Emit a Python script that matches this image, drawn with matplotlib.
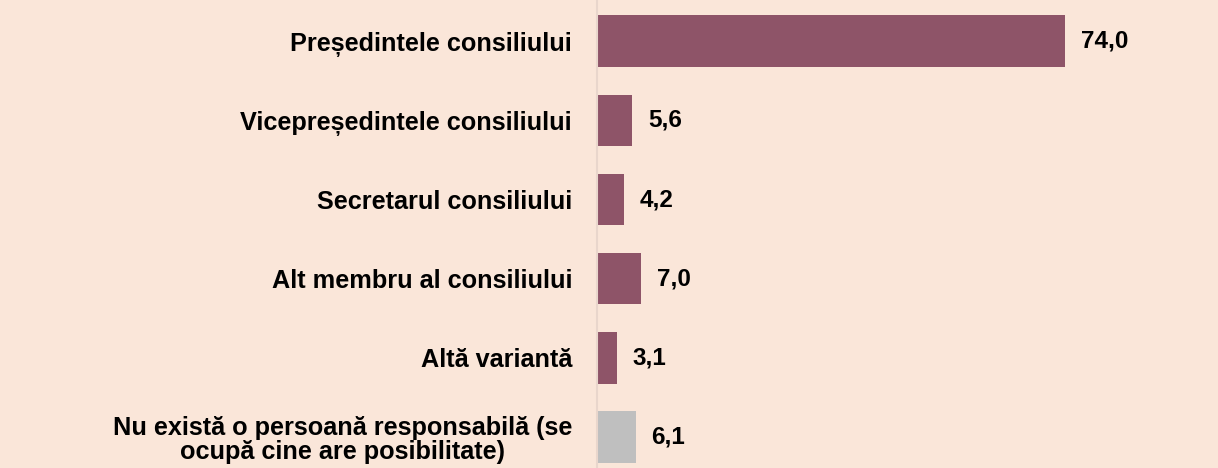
import matplotlib
matplotlib.use("Agg")
import matplotlib.pyplot as plt

categories = [
    "Președintele consiliului",
    "Vicepreședintele consiliului",
    "Secretarul consiliului",
    "Alt membru al consiliului",
    "Altă variantă",
    "Nu există o persoană responsabilă (se\nocupă cine are posibilitate)",
]
values = [74.0, 5.6, 4.2, 7.0, 3.1, 6.1]
value_labels = ["74,0", "5,6", "4,2", "7,0", "3,1", "6,1"]
colors = ["#8E5468"] * 5 + ["#BFBFBF"]

bg = "#FAE6D9"
plt.rcParams['font.family'] = ['Liberation Sans', 'DejaVu Sans']

fig = plt.figure(figsize=(12.18, 4.68), dpi=100, facecolor=bg)
ax = fig.add_axes([597/1218, 0, 1 - 597/1218, 1])
ax.set_facecolor(bg)

y = list(range(len(categories)))
ax.barh(y, values, height=0.65, color=colors, left=0)
ax.set_xlim(0, 98.2)
ax.set_ylim(5.39, -0.52)

for yi, v, lab in zip(y, values, value_labels):
    ax.annotate(lab, (v, yi), xytext=(16, 0), textcoords="offset pixels",
                va="center", ha="left", fontsize=17.5, fontweight="bold", color="black")

ax.set_yticks(y)
ax.set_yticklabels(categories, fontsize=18.2, fontweight="bold",
                   multialignment="center", linespacing=1.02)
ax.tick_params(axis="y", length=0, pad=18)
ax.set_xticks([])
for s in ["top", "right", "bottom"]:
    ax.spines[s].set_visible(False)
ax.spines["left"].set_color("#E9D6CC")
ax.spines["left"].set_linewidth(1.5)

fig.savefig("out.png", dpi=100, facecolor=bg)
